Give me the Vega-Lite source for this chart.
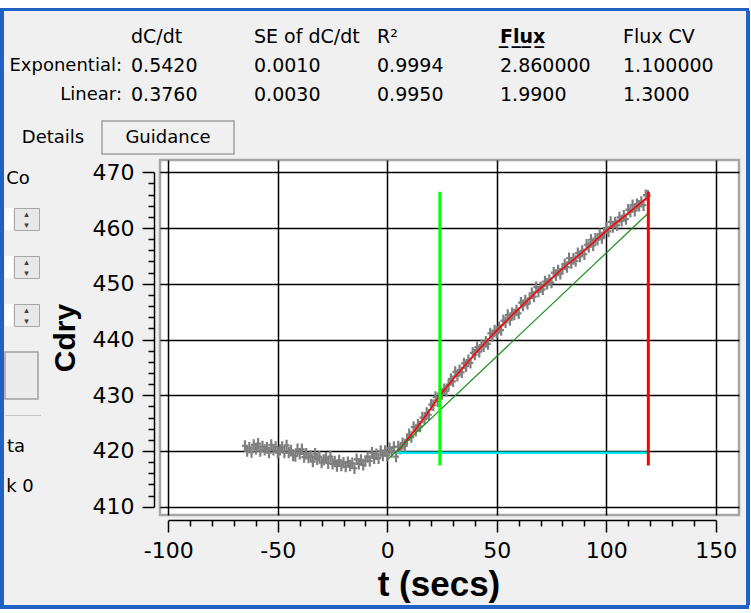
{
  "$schema": "https://vega.github.io/schema/vega-lite/v6.json",
  "padding": 0,
  "background": "#f0f0f0",
  "config": {"view": {"stroke": null}, "text": {"font": "DejaVu Sans", "color": "#000000"}},
  "datasets": {
    "table": [
      {"r": 1, "c": 1, "txt": "dC/dt", "kind": "cell"},
      {"r": 1, "c": 2, "txt": "SE of dC/dt", "kind": "cell"},
      {"r": 1, "c": 3, "txt": "R\u00b2", "kind": "cell"},
      {"r": 1, "c": 4, "txt": "F\u0332l\u0332u\u0332x\u0332", "kind": "bold"},
      {"r": 1, "c": 5, "txt": "Flux CV", "kind": "cell"},
      {"r": 2, "c": 1, "txt": "Exponential:", "kind": "label"},
      {"r": 2, "c": 1, "txt": "0.5420", "kind": "cell"},
      {"r": 2, "c": 2, "txt": "0.0010", "kind": "cell"},
      {"r": 2, "c": 3, "txt": "0.9994", "kind": "cell"},
      {"r": 2, "c": 4, "txt": "2.860000", "kind": "cell"},
      {"r": 2, "c": 5, "txt": "1.100000", "kind": "cell"},
      {"r": 3, "c": 1, "txt": "Linear:", "kind": "label"},
      {"r": 3, "c": 1, "txt": "0.3760", "kind": "cell"},
      {"r": 3, "c": 2, "txt": "0.0030", "kind": "cell"},
      {"r": 3, "c": 3, "txt": "0.9950", "kind": "cell"},
      {"r": 3, "c": 4, "txt": "1.9900", "kind": "cell"},
      {"r": 3, "c": 5, "txt": "1.3000", "kind": "cell"}
    ],
    "obs": [
      {"t": -65, "c": 420.9}, {"t": -64, "c": 420.0}, {"t": -63, "c": 420.6}, {"t": -62, "c": 419.8}, {"t": -61, "c": 421.1},
      {"t": -60, "c": 420.4}, {"t": -59, "c": 421.3}, {"t": -58, "c": 420.0}, {"t": -57, "c": 420.8}, {"t": -56, "c": 420.2},
      {"t": -55, "c": 420.6}, {"t": -54, "c": 419.7}, {"t": -53, "c": 421.1}, {"t": -52, "c": 420.2}, {"t": -51, "c": 420.7},
      {"t": -50, "c": 419.7}, {"t": -49, "c": 420.2}, {"t": -48, "c": 420.7}, {"t": -47, "c": 419.7}, {"t": -46, "c": 421.0},
      {"t": -45, "c": 419.7}, {"t": -44, "c": 420.1}, {"t": -43, "c": 419.2}, {"t": -42, "c": 419.1}, {"t": -41, "c": 420.3},
      {"t": -40, "c": 419.5}, {"t": -39, "c": 420.3}, {"t": -38, "c": 418.9}, {"t": -37, "c": 419.5}, {"t": -36, "c": 418.8},
      {"t": -35, "c": 419.1}, {"t": -34, "c": 418.1}, {"t": -33, "c": 419.5}, {"t": -32, "c": 418.5}, {"t": -31, "c": 419.0},
      {"t": -30, "c": 417.9}, {"t": -29, "c": 418.4}, {"t": -28, "c": 418.8}, {"t": -27, "c": 417.8}, {"t": -26, "c": 419.0},
      {"t": -25, "c": 417.7}, {"t": -24, "c": 418.1}, {"t": -23, "c": 417.3}, {"t": -22, "c": 418.3}, {"t": -21, "c": 417.4},
      {"t": -20, "c": 417.9}, {"t": -19, "c": 417.2}, {"t": -18, "c": 418.0}, {"t": -17, "c": 417.4}, {"t": -16, "c": 417.8},
      {"t": -15, "c": 416.9}, {"t": -14, "c": 418.5}, {"t": -13, "c": 417.7}, {"t": -12, "c": 418.4}, {"t": -11, "c": 417.5},
      {"t": -10, "c": 418.2}, {"t": -9, "c": 418.9}, {"t": -8, "c": 418.2}, {"t": -7, "c": 419.7}, {"t": -6, "c": 418.7},
      {"t": -5, "c": 419.4}, {"t": -4, "c": 418.7}, {"t": -3, "c": 420.0}, {"t": -2, "c": 419.2}, {"t": -1, "c": 420.0},
      {"t": 0, "c": 419.2}, {"t": 1, "c": 420.5}, {"t": 2, "c": 419.8}, {"t": 3, "c": 420.7}, {"t": 4, "c": 419.0},
      {"t": 5, "c": 420.8}, {"t": 6, "c": 420.4}, {"t": 7, "c": 421.4}, {"t": 8, "c": 420.9}, {"t": 9, "c": 422.0},
      {"t": 10, "c": 423.0}, {"t": 11, "c": 422.5}, {"t": 12, "c": 424.3}, {"t": 13, "c": 423.6}, {"t": 14, "c": 424.7},
      {"t": 15, "c": 424.4}, {"t": 16, "c": 426.0}, {"t": 17, "c": 425.7}, {"t": 18, "c": 426.8}, {"t": 19, "c": 426.5},
      {"t": 20, "c": 428.3}, {"t": 21, "c": 428.2}, {"t": 22, "c": 429.7}, {"t": 23, "c": 428.9}, {"t": 24, "c": 430.3},
      {"t": 25, "c": 430.2}, {"t": 26, "c": 431.1}, {"t": 27, "c": 430.8}, {"t": 28, "c": 431.9}, {"t": 29, "c": 432.9},
      {"t": 30, "c": 432.5}, {"t": 31, "c": 434.2}, {"t": 32, "c": 433.5}, {"t": 33, "c": 434.5}, {"t": 34, "c": 434.1},
      {"t": 35, "c": 435.7}, {"t": 36, "c": 435.2}, {"t": 37, "c": 436.3}, {"t": 38, "c": 435.8}, {"t": 39, "c": 437.6},
      {"t": 40, "c": 437.3}, {"t": 41, "c": 438.6}, {"t": 42, "c": 437.8}, {"t": 43, "c": 439.0}, {"t": 44, "c": 438.8},
      {"t": 45, "c": 439.6}, {"t": 46, "c": 439.2}, {"t": 47, "c": 441.1}, {"t": 48, "c": 440.6}, {"t": 49, "c": 441.6},
      {"t": 50, "c": 441.2}, {"t": 51, "c": 442.2}, {"t": 52, "c": 441.7}, {"t": 53, "c": 443.4}, {"t": 54, "c": 443.1},
      {"t": 55, "c": 444.4}, {"t": 56, "c": 443.5}, {"t": 57, "c": 444.7}, {"t": 58, "c": 444.5}, {"t": 59, "c": 445.2},
      {"t": 60, "c": 444.7}, {"t": 61, "c": 446.6}, {"t": 62, "c": 446.1}, {"t": 63, "c": 447.0}, {"t": 64, "c": 446.4},
      {"t": 65, "c": 447.4}, {"t": 66, "c": 448.3}, {"t": 67, "c": 447.7}, {"t": 68, "c": 449.4}, {"t": 69, "c": 448.6},
      {"t": 70, "c": 449.4}, {"t": 71, "c": 449.0}, {"t": 72, "c": 450.4}, {"t": 73, "c": 450.0}, {"t": 74, "c": 450.7},
      {"t": 75, "c": 450.2}, {"t": 76, "c": 452.0}, {"t": 77, "c": 451.5}, {"t": 78, "c": 452.4}, {"t": 79, "c": 451.8},
      {"t": 80, "c": 452.7}, {"t": 81, "c": 453.5}, {"t": 82, "c": 453.0}, {"t": 83, "c": 454.6}, {"t": 84, "c": 453.7},
      {"t": 85, "c": 454.5}, {"t": 86, "c": 454.1}, {"t": 87, "c": 455.5}, {"t": 88, "c": 454.9}, {"t": 89, "c": 455.9},
      {"t": 90, "c": 455.3}, {"t": 91, "c": 457.0}, {"t": 92, "c": 456.6}, {"t": 93, "c": 457.9}, {"t": 94, "c": 456.9},
      {"t": 95, "c": 458.1}, {"t": 96, "c": 457.9}, {"t": 97, "c": 458.9}, {"t": 98, "c": 458.2}, {"t": 99, "c": 459.2},
      {"t": 100, "c": 460.0}, {"t": 101, "c": 459.4}, {"t": 102, "c": 461.1}, {"t": 103, "c": 460.2}, {"t": 104, "c": 461.0},
      {"t": 105, "c": 460.5}, {"t": 106, "c": 461.9}, {"t": 107, "c": 461.3}, {"t": 108, "c": 462.2}, {"t": 109, "c": 461.6},
      {"t": 110, "c": 463.3}, {"t": 111, "c": 462.9}, {"t": 112, "c": 464.1}, {"t": 113, "c": 463.1}, {"t": 114, "c": 464.3},
      {"t": 115, "c": 464.0}, {"t": 116, "c": 464.7}, {"t": 117, "c": 464.1}, {"t": 118, "c": 465.9}, {"t": 119, "c": 465.8}
    ],
    "expfit": [
      {"t": 4.3, "c": 419.7}, {"t": 8, "c": 421.5}, {"t": 12, "c": 423.4}, {"t": 16, "c": 425.5}, {"t": 20, "c": 427.7},
      {"t": 24, "c": 430.0}, {"t": 28, "c": 431.9}, {"t": 32, "c": 433.8}, {"t": 36, "c": 435.6}, {"t": 40, "c": 437.4},
      {"t": 44, "c": 439.1}, {"t": 48, "c": 440.8}, {"t": 52, "c": 442.4}, {"t": 56, "c": 444.0}, {"t": 60, "c": 445.5},
      {"t": 64, "c": 447.0}, {"t": 68, "c": 448.5}, {"t": 72, "c": 449.9}, {"t": 76, "c": 451.3}, {"t": 80, "c": 452.7},
      {"t": 84, "c": 454.0}, {"t": 88, "c": 455.3}, {"t": 92, "c": 456.7}, {"t": 96, "c": 458.1}, {"t": 100, "c": 459.5},
      {"t": 104, "c": 460.8}, {"t": 108, "c": 462.0}, {"t": 112, "c": 463.3}, {"t": 116, "c": 464.6}, {"t": 118.5, "c": 465.4}
    ],
    "linfit": [{"t": 0, "c": 418.4}, {"t": 119, "c": 462.6}],
    "markers": [
      {"t": 24, "c": 417.4, "c2": 466.5, "line": "fit start"},
      {"t": 119.2, "c": 417.4, "c2": 466.5, "line": "fit end"}
    ],
    "baseline": [{"t": 4.3, "t2": 119.2, "c": 419.7}]
  },
  "spacing": 0,
  "vconcat": [
    {"width": 749, "height": 8, "view": {"fill": "#ffffff"}, "data": {"values": [{"part": "edge"}]}, "mark": {"type": "text", "text": "", "fontSize": 1}},
    {"width": 749, "height": 3, "view": {"fill": "#1f62c3"}, "data": {"values": [{"part": "frame"}]}, "mark": {"type": "text", "text": "", "fontSize": 1}},
    {
      "spacing": 0,
      "hconcat": [
        {"width": 4, "height": 594, "view": {"fill": "#1f62c3"}, "data": {"values": [{"part": "frame"}]}, "mark": {"type": "text", "text": "", "fontSize": 1}},
        {
          "spacing": 3,
          "vconcat": [
            {
              "width": 741,
              "height": 106,
              "data": {"name": "table"},
              "encoding": {
                "x": {"field": "c", "type": "quantitative", "scale": {"domain": [-0.0244, 6.0], "nice": false, "zero": false}, "axis": null},
                "y": {"field": "r", "type": "quantitative", "scale": {"domain": [0.1034, 3.7586], "reverse": true, "nice": false, "zero": false}, "axis": null},
                "text": {"field": "txt"}
              },
              "layer": [
                {"transform": [{"filter": "datum.kind === 'cell'"}], "mark": {"type": "text", "align": "left", "baseline": "middle", "font": "DejaVu Sans", "fontSize": 19, "color": "#000000"}},
                {"transform": [{"filter": "datum.kind === 'bold'"}], "mark": {"type": "text", "align": "left", "baseline": "middle", "font": "DejaVu Sans", "fontSize": 19, "fontWeight": "bold", "color": "#000000"}},
                {"transform": [{"filter": "datum.kind === 'label'"}], "mark": {"type": "text", "align": "right", "baseline": "middle", "dx": -9, "font": "DejaVu Sans", "fontSize": 18, "color": "#000000"}}
              ]
            },
            {
              "spacing": 0,
              "hconcat": [
                {"width": 96, "height": 33, "data": {"values": [{"label": "Details"}]}, "mark": {"type": "text", "fontSize": 18, "baseline": "middle"}, "encoding": {"text": {"field": "label"}}},
                {"width": 132, "height": 33, "view": {"stroke": "#a0a0a0", "strokeWidth": 1.5}, "data": {"values": [{"label": "Guidance"}]}, "mark": {"type": "text", "fontSize": 18, "baseline": "middle"}, "encoding": {"text": {"field": "label"}}}
              ]
            },
            {
              "spacing": 7,
              "hconcat": [
                {
                  "spacing": 0,
                  "vconcat": [
                    {"width": 26, "height": 47, "data": {"values": [{"label": "Co"}]}, "mark": {"type": "text", "fontSize": 18, "baseline": "middle", "dy": -5}, "encoding": {"text": {"field": "label"}}},
                    {
                      "spacing": 24,
                      "vconcat": [
                        {"spacing": 0, "hconcat": [
                          {"width": 8, "height": 22, "view": {"fill": "#ffffff"}, "data": {"values": [{"part": "field"}]}, "mark": {"type": "text", "text": "", "fontSize": 1}},
                          {"width": 25, "height": 22, "view": {"fill": "#e8e8e8", "stroke": "#a6a6a6"}, "data": {"values": [{"part": "spin"}]}, "mark": {"type": "text", "text": ["\u25b4", "\u25be"], "fontSize": 9, "lineHeight": 11, "baseline": "middle", "dy": -5, "color": "#404040"}}
                        ]},
                        {"spacing": 0, "hconcat": [
                          {"width": 8, "height": 22, "view": {"fill": "#ffffff"}, "data": {"values": [{"part": "field"}]}, "mark": {"type": "text", "text": "", "fontSize": 1}},
                          {"width": 25, "height": 22, "view": {"fill": "#e8e8e8", "stroke": "#a6a6a6"}, "data": {"values": [{"part": "spin"}]}, "mark": {"type": "text", "text": ["\u25b4", "\u25be"], "fontSize": 9, "lineHeight": 11, "baseline": "middle", "dy": -5, "color": "#404040"}}
                        ]},
                        {"spacing": 0, "hconcat": [
                          {"width": 8, "height": 22, "view": {"fill": "#ffffff"}, "data": {"values": [{"part": "field"}]}, "mark": {"type": "text", "text": "", "fontSize": 1}},
                          {"width": 25, "height": 22, "view": {"fill": "#e8e8e8", "stroke": "#a6a6a6"}, "data": {"values": [{"part": "spin"}]}, "mark": {"type": "text", "text": ["\u25b4", "\u25be"], "fontSize": 9, "lineHeight": 11, "baseline": "middle", "dy": -5, "color": "#404040"}}
                        ]},
                        {"width": 33, "height": 47, "view": {"fill": "#ececec", "stroke": "#a0a0a0", "strokeWidth": 1.5}, "data": {"values": [{"part": "button"}]}, "mark": {"type": "text", "text": "", "fontSize": 1}}
                      ]
                    },
                    {"width": 36, "height": 14, "data": {"values": [{"part": "gap"}]}, "mark": {"type": "text", "text": "", "fontSize": 1}},
                    {"width": 36, "height": 1, "view": {"fill": "#c4c4c4"}, "data": {"values": [{"part": "sep"}]}, "mark": {"type": "text", "text": "", "fontSize": 1}},
                    {"width": 22, "height": 62, "data": {"values": [{"label": "ta"}]}, "mark": {"type": "text", "fontSize": 18, "baseline": "middle"}, "encoding": {"text": {"field": "label"}}},
                    {"width": 30, "height": 18, "data": {"values": [{"label": "k 0"}]}, "mark": {"type": "text", "fontSize": 18, "baseline": "middle"}, "encoding": {"text": {"field": "label"}}}
                  ]
                },
                {
                  "width": 579,
                  "height": 355,
                  "view": {"fill": "#ffffff", "stroke": "#a6a6a6", "strokeWidth": 2.5},
                  "layer": [
                    {
                      "data": {"name": "obs"},
                      "mark": {"type": "point", "shape": "M-0.5,0H0.5M0,-1V1", "filled": false, "stroke": "#7f7f7f", "strokeWidth": 2.2, "size": 130, "opacity": 1},
                      "encoding": {
                        "x": {
                          "field": "t", "type": "quantitative", "title": "t (secs)",
                          "scale": {"domain": [-103.8, 160.6], "nice": false, "zero": false},
                          "axis": {
                            "values": [-100, -90, -80, -70, -60, -50, -40, -30, -20, -10, 0, 10, 20, 30, 40, 50, 60, 70, 80, 90, 100, 110, 120, 130, 140, 150],
                            "tickCount": 1000,
                            "offset": 5,
                            "domainColor": "#000000", "domainWidth": 1.5, "domainDash": [547.5, 100], "domainDashOffset": 639.2,
                            "tickColor": "#000000", "tickWidth": 1.5,
                            "tickSize": {"condition": {"test": "datum.value % 50 === 0", "value": 12}, "value": 6},
                            "grid": true, "gridColor": "#000000", "gridWidth": 1.5,
                            "gridOpacity": {"condition": {"test": "datum.value % 50 === 0", "value": 1}, "value": 0},
                            "labelExpr": "datum.value % 50 === 0 ? '' + datum.value : ''",
                            "labelFont": "DejaVu Sans", "labelFontSize": 22, "labelColor": "#000000", "labelPadding": 8,
                            "labelOverlap": false, "labelFlush": false,
                            "titleFont": "Liberation Sans", "titleFontWeight": "bold", "titleFontSize": 35, "titleColor": "#000000",
                            "titlePadding": 6, "titleX": 278.5
                          }
                        },
                        "y": {
                          "field": "c", "type": "quantitative", "title": "Cdry",
                          "scale": {"domain": [408.51, 472.21], "nice": false, "zero": false},
                          "axis": {
                            "values": [410, 412, 414, 416, 418, 420, 422, 424, 426, 428, 430, 432, 434, 436, 438, 440, 442, 444, 446, 448, 450, 452, 454, 456, 458, 460, 462, 464, 466, 468, 470],
                            "tickCount": 1000,
                            "offset": 6,
                            "domainColor": "#000000", "domainWidth": 1.5, "domainDash": [334.4, 100], "domainDashOffset": 426.1,
                            "tickColor": "#000000", "tickWidth": 1.5,
                            "tickSize": {"condition": {"test": "datum.value % 10 === 0", "value": 12}, "value": 6},
                            "grid": true, "gridColor": "#000000", "gridWidth": 1.5,
                            "gridOpacity": {"condition": {"test": "datum.value % 10 === 0", "value": 1}, "value": 0},
                            "labelExpr": "datum.value % 10 === 0 ? '' + datum.value : ''",
                            "labelFont": "DejaVu Sans", "labelFontSize": 22, "labelColor": "#000000", "labelPadding": 8,
                            "labelOverlap": false, "labelFlush": false,
                            "titleFont": "Liberation Sans", "titleFontWeight": "bold", "titleFontSize": 30, "titleColor": "#000000",
                            "titlePadding": 12
                          }
                        }
                      }
                    },
                    {
                      "data": {"name": "expfit"},
                      "mark": {"type": "line", "color": "#ff0000", "strokeWidth": 1.5},
                      "encoding": {
                        "x": {"field": "t", "type": "quantitative", "title": "t (secs)"},
                        "y": {"field": "c", "type": "quantitative", "title": "Cdry"}
                      }
                    },
                    {
                      "data": {"name": "linfit"},
                      "mark": {"type": "line", "color": "#1a8f1a", "strokeWidth": 1.2},
                      "encoding": {
                        "x": {"field": "t", "type": "quantitative", "title": "t (secs)"},
                        "y": {"field": "c", "type": "quantitative", "title": "Cdry"}
                      }
                    },
                    {
                      "data": {"name": "baseline"},
                      "mark": {"type": "rule", "color": "#00e6ee", "strokeWidth": 2.5},
                      "encoding": {
                        "x": {"field": "t", "type": "quantitative", "title": "t (secs)"},
                        "x2": {"field": "t2"},
                        "y": {"field": "c", "type": "quantitative", "title": "Cdry"}
                      }
                    },
                    {
                      "data": {"name": "markers"},
                      "mark": {"type": "rule", "strokeWidth": 3},
                      "encoding": {
                        "x": {"field": "t", "type": "quantitative", "title": "t (secs)"},
                        "y": {"field": "c", "type": "quantitative", "title": "Cdry"},
                        "y2": {"field": "c2"},
                        "color": {"field": "line", "type": "nominal", "scale": {"domain": ["fit start", "fit end"], "range": ["#00ff00", "#ff0000"]}, "legend": null}
                      }
                    }
                  ]
                }
              ]
            }
          ]
        },
        {"width": 4, "height": 594, "view": {"fill": "#1f62c3"}, "data": {"values": [{"part": "frame"}]}, "mark": {"type": "text", "text": "", "fontSize": 1}}
      ]
    },
    {"width": 749, "height": 4, "view": {"fill": "#1f62c3"}, "data": {"values": [{"part": "frame"}]}, "mark": {"type": "text", "text": "", "fontSize": 1}}
  ]
}
